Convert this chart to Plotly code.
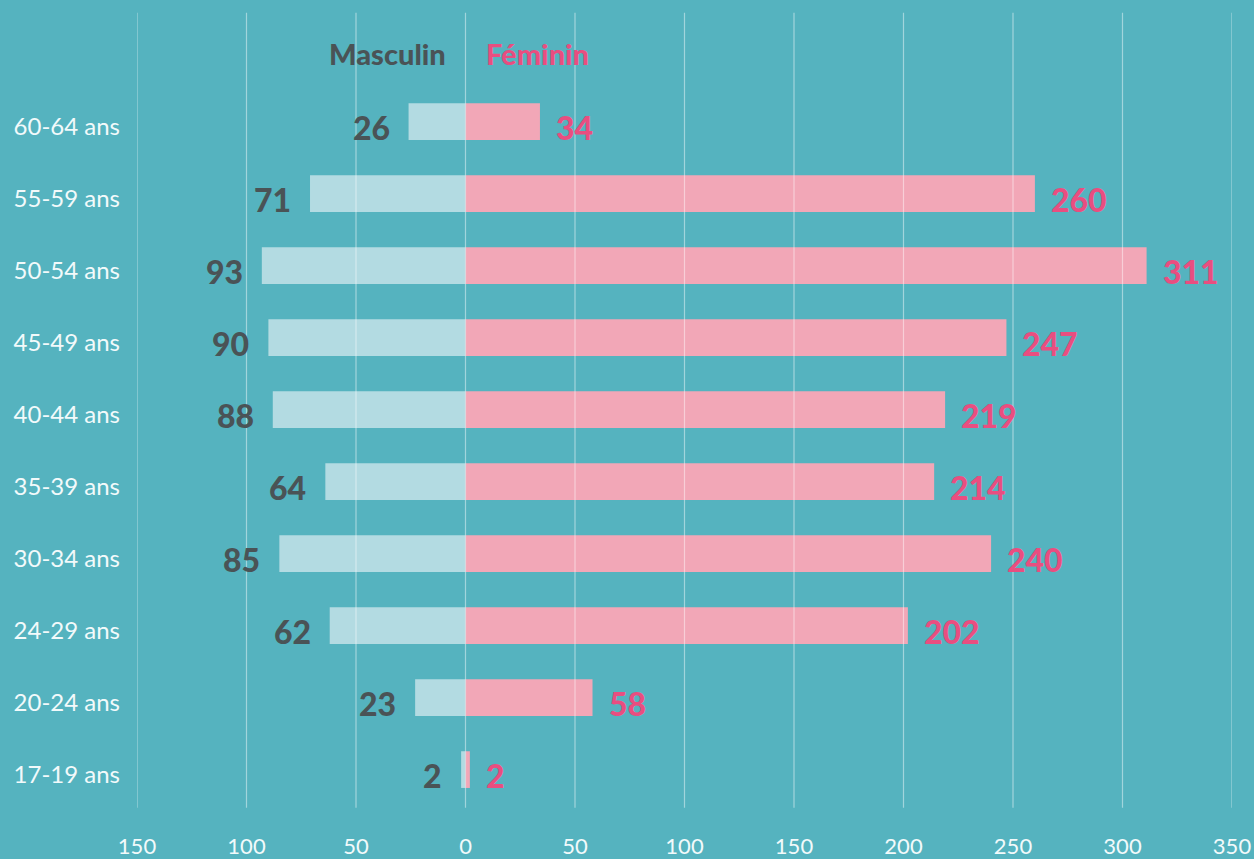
import plotly.graph_objects as go

categories = ["17-19 ans", "20-24 ans", "24-29 ans", "30-34 ans", "35-39 ans",
              "40-44 ans", "45-49 ans", "50-54 ans", "55-59 ans", "60-64 ans"]
masculin = [2, 23, 62, 85, 64, 88, 90, 93, 71, 26]
feminin = [2, 58, 202, 240, 214, 219, 247, 311, 260, 34]
tick_vals = [-150, -100, -50, 0, 50, 100, 150, 200, 250, 300, 350]
tick_text = ["150", "100", "50", "0", "50", "100", "150", "200", "250", "300", "350"]

BG = "#55B3BF"
MALE_BAR = "#B3DBE2"
FEMALE_BAR = "#F2A7B7"
MALE_TXT = "#4A5356"
FEMALE_TXT = "#E94E80"
FONT = "Lato"

BAR_W = 0.51
BAR_OFFSET = -BAR_W / 2 + 0.075  # bars sit slightly above the label baseline

ypos = list(range(len(categories)))

fig = go.Figure()
fig.add_trace(go.Bar(y=ypos, x=[-v for v in masculin], orientation="h",
                     marker=dict(color=MALE_BAR, line=dict(width=0)),
                     width=BAR_W, offset=BAR_OFFSET, name="Masculin", hoverinfo="skip"))
fig.add_trace(go.Bar(y=ypos, x=feminin, orientation="h",
                     marker=dict(color=FEMALE_BAR, line=dict(width=0)),
                     width=BAR_W, offset=BAR_OFFSET, name="Féminin", hoverinfo="skip"))

annotations = []
for i, (m, f) in enumerate(zip(masculin, feminin)):
    annotations.append(dict(x=-m, y=i, text=str(m), showarrow=False, xanchor="right",
                            xshift=-17, yshift=0,
                            font=dict(family=FONT, size=32, color=MALE_TXT, weight=900)))
    annotations.append(dict(x=f, y=i, text=str(f), showarrow=False, xanchor="left",
                            xshift=14, yshift=0,
                            font=dict(family=FONT, size=32, color=FEMALE_TXT, weight=900)))
annotations.append(dict(x=0, y=len(categories), text="Masculin", showarrow=False,
                        xanchor="right", xshift=-18, yshift=2,
                        font=dict(family=FONT, size=29, color=MALE_TXT, weight=900)))
annotations.append(dict(x=0, y=len(categories), text="Féminin", showarrow=False,
                        xanchor="left", xshift=18, yshift=2,
                        font=dict(family=FONT, size=29, color=FEMALE_TXT, weight=900)))

shapes = [dict(type="line", xref="x", yref="paper", x0=t, x1=t, y0=0.004, y1=1.008,
               line=dict(color="rgba(255,255,255,0.45)", width=1.2), layer="above")
          for t in tick_vals]

fig.update_layout(
    width=1254, height=859,
    margin=dict(l=137, r=22, t=19, b=48),
    paper_bgcolor=BG, plot_bgcolor=BG,
    barmode="overlay", showlegend=False,
    annotations=annotations, shapes=shapes,
    xaxis=dict(range=[-150, 350], tickvals=tick_vals, ticktext=tick_text,
               showgrid=False, zeroline=False, showline=False, ticks="",
               automargin=False, ticklabelstandoff=20,
               tickfont=dict(family=FONT, size=22, color="#F2FAFB", weight=400)),
    yaxis=dict(range=[-0.5, len(categories) + 0.5], tickvals=ypos, ticktext=categories,
               showgrid=False, zeroline=False, showline=False, ticks="",
               automargin=False, ticklabelstandoff=16,
               tickfont=dict(family=FONT, size=24, color="#F2FAFB", weight=400)),
)

fig.write_html("out.html", config={"displayModeBar": False},
               post_script="document.body.style.margin='0';")
